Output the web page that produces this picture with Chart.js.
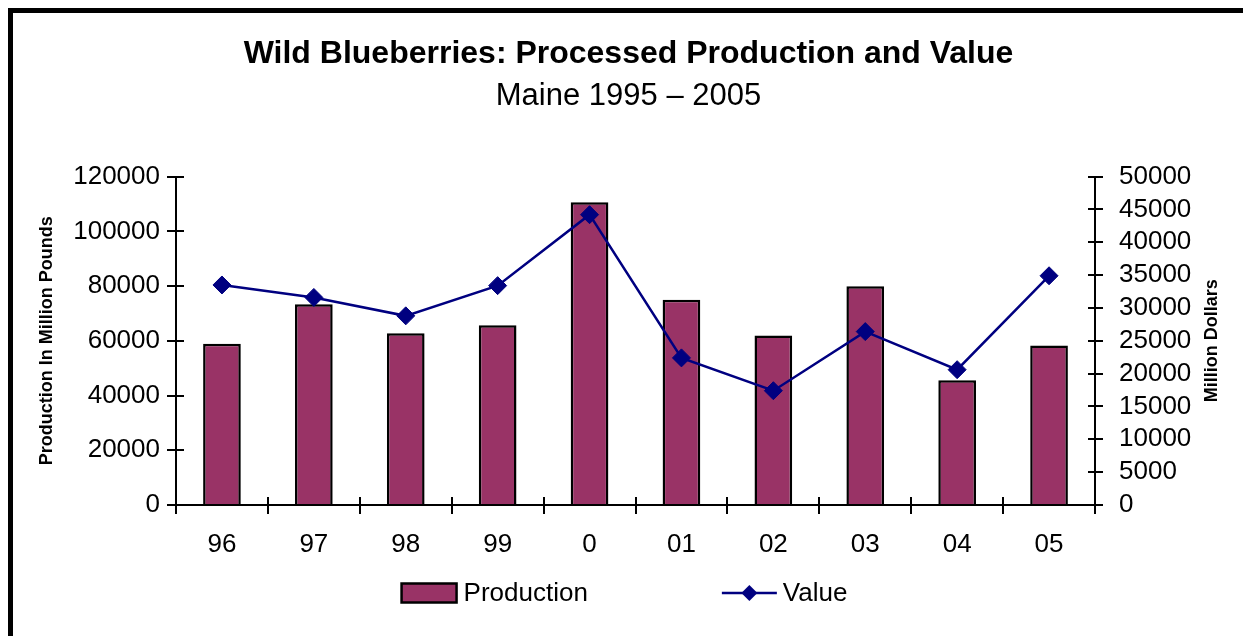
<!DOCTYPE html>
<html>
<head>
<meta charset="utf-8">
<script src="https://cdn.jsdelivr.net/npm/chart.js@4.4.0/dist/chart.umd.min.js"></script>
<style>
  html, body { margin: 0; padding: 0; background: #fff; overflow: hidden; }
  #frame { position: absolute; left: 8px; top: 8px; width: 1300px; height: 700px;
           border-top: 5px solid #000; border-left: 5px solid #000; }
  #chart { position: absolute; left: 0; top: 0; }
</style>
</head>
<body>
<div id="frame"></div>
<canvas id="chart" width="1243" height="636"></canvas>
<script>
// data
const years      = ['96', '97', '98', '99', '0', '01', '02', '03', '04', '05'];
const production = [58900, 73400, 62800, 65700, 110600, 75000, 61900, 79900, 45600, 58300];
const value      = [33500, 31600, 28800, 33400, 44200, 22400, 17400, 26400, 20600, 34900];

const leftTicks  = [0, 20000, 40000, 60000, 80000, 100000, 120000];
const rightTicks = [0, 5000, 10000, 15000, 20000, 25000, 30000, 35000, 40000, 45000, 50000];

const FONT = "'Liberation Sans', Arial, sans-serif";
const BAR = '#993366';
const NAVY = '#000080';

// ticks that cross the axis: Chart.js only draws the outer half
const innerTicks = {
  id: 'innerTicks',
  afterDraw(chart) {
    const { ctx, chartArea: a, scales } = chart;
    ctx.save();
    ctx.strokeStyle = '#000';
    ctx.lineWidth = 2;
    ctx.beginPath();
    const x = scales.x;
    const step = x.getPixelForTick(1) - x.getPixelForTick(0);
    for (let i = 0; i <= years.length; i++) {
      const px = Math.round(x.getPixelForTick(0) - step / 2 + i * step);
      ctx.moveTo(px, a.bottom); ctx.lineTo(px, a.bottom - 8);
    }
    leftTicks.forEach(v => {
      const py = Math.round(scales.y.getPixelForValue(v));
      ctx.moveTo(a.left, py); ctx.lineTo(a.left + 8, py);
    });
    rightTicks.forEach(v => {
      const py = Math.round(scales.y1.getPixelForValue(v));
      ctx.moveTo(a.right, py); ctx.lineTo(a.right - 7, py);
    });
    ctx.stroke();

    // right axis title reads bottom-to-top in the original
    ctx.fillStyle = '#000';
    ctx.font = 'bold 18px ' + FONT;
    ctx.textAlign = 'center';
    ctx.textBaseline = 'middle';
    ctx.translate(1212, (a.top + a.bottom) / 2);
    ctx.rotate(-Math.PI / 2);
    ctx.fillText('Million Dollars', 0, 0);
    ctx.restore();
  }
};

// legend: box for the bars, line + diamond for the value series
const bottomLegend = {
  id: 'bottomLegend',
  afterDraw(chart) {
    const { ctx } = chart;
    ctx.save();
    ctx.font = '26px ' + FONT;
    ctx.textBaseline = 'middle';
    ctx.fillStyle = '#000';
    const cy = 593;
    const wProd = ctx.measureText('Production').width;
    const wVal = ctx.measureText('Value').width;
    const gap = 134;
    const total = 55 + 7 + wProd + gap + 55 + 6 + wVal;
    let x = (chart.width - total) / 2 + 3;

    ctx.fillStyle = BAR;
    ctx.fillRect(x, cy - 9.5, 55, 19);
    ctx.strokeStyle = '#000';
    ctx.lineWidth = 2.5;
    ctx.strokeRect(x, cy - 9.5, 55, 19);
    ctx.fillStyle = '#000';
    ctx.fillText('Production', x + 62, cy + 1);

    x += 55 + 7 + wProd + gap;
    ctx.strokeStyle = NAVY;
    ctx.lineWidth = 2.5;
    ctx.beginPath();
    ctx.moveTo(x, cy); ctx.lineTo(x + 55, cy);
    ctx.stroke();
    ctx.fillStyle = NAVY;
    ctx.beginPath();
    ctx.moveTo(x + 27.5, cy - 8); ctx.lineTo(x + 35.5, cy);
    ctx.lineTo(x + 27.5, cy + 8); ctx.lineTo(x + 19.5, cy);
    ctx.closePath(); ctx.fill();
    ctx.fillStyle = '#000';
    ctx.fillText('Value', x + 61, cy + 1);
    ctx.restore();
  }
};

const plain = v => String(v);

new Chart(document.getElementById('chart'), {
  type: 'bar',
  data: {
    labels: years,
    datasets: [
      {
        type: 'line',
        label: 'Value',
        data: value,
        yAxisID: 'y1',
        borderColor: NAVY,
        borderWidth: 2.5,
        pointStyle: 'rectRot',
        pointRadius: 9,
        pointBackgroundColor: NAVY,
        pointBorderColor: NAVY,
        pointBorderWidth: 1,
        tension: 0,
        order: 0,
      },
      {
        label: 'Production',
        data: production,
        yAxisID: 'y',
        backgroundColor: BAR,
        borderColor: '#000',
        borderWidth: 2.5,
        barPercentage: 0.41,
        categoryPercentage: 1,
        order: 1,
      },
    ],
  },
  options: {
    responsive: false,
    animation: false,
    layout: { padding: { left: 14, right: 0, top: 14, bottom: 71 } },
    plugins: {
      legend: { display: false },
      tooltip: { enabled: false },
      title: {
        display: true,
        text: 'Wild Blueberries: Processed Production and Value',
        color: '#000',
        font: { family: FONT, size: 32, weight: 'bold' },
        padding: { top: 21, bottom: 0 },
      },
      subtitle: {
        display: true,
        text: 'Maine 1995 \u2013 2005',
        color: '#000',
        font: { family: FONT, size: 31 },
        padding: { top: 4, bottom: 62 },
      },
    },
    scales: {
      x: {
        grid: { display: true, drawOnChartArea: false, drawTicks: true, tickLength: 9, color: '#000', lineWidth: 2 },
        border: { display: true, color: '#000', width: 2 },
        ticks: { color: '#000', font: { family: FONT, size: 26 }, padding: 15, maxRotation: 0 },
        afterFit: s => { s.height = 60; },
      },
      y: {
        position: 'left',
        min: 0, max: 120000,
        afterBuildTicks: s => { s.ticks = leftTicks.map(v => ({ value: v })); },
        grid: { drawOnChartArea: false, tickLength: 9, color: '#000', lineWidth: 2 },
        border: { display: true, color: '#000', width: 2 },
        ticks: { color: '#000', font: { family: FONT, size: 26 }, padding: 7, autoSkip: false, callback: plain },
        title: {
          display: true,
          text: 'Production In Million Pounds',
          color: '#000',
          font: { family: FONT, size: 18, weight: 'bold' },
          padding: { top: 22, bottom: 0 },
        },
        afterFit: s => { s.width = 162; },
      },
      y1: {
        position: 'right',
        min: 0, max: 50000,
        afterBuildTicks: s => { s.ticks = rightTicks.map(v => ({ value: v })); },
        grid: { drawOnChartArea: false, tickLength: 8, color: '#000', lineWidth: 2 },
        border: { display: true, color: '#000', width: 2 },
        ticks: { color: '#000', font: { family: FONT, size: 26 }, padding: 16, autoSkip: false, callback: plain },
        afterFit: s => { s.width = 148; },
      },
    },
  },
  plugins: [innerTicks, bottomLegend],
});
</script>
</body>
</html>
